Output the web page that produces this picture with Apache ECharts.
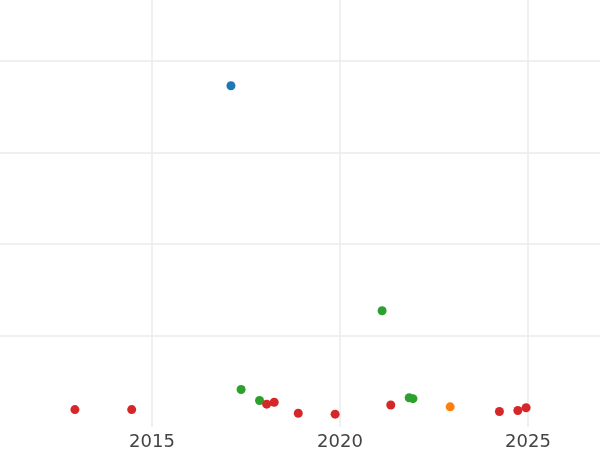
<!DOCTYPE html>
<html>
<head>
<meta charset="utf-8">
<script src="https://cdn.jsdelivr.net/npm/echarts@6/dist/echarts.min.js"></script>
<style>
  html, body { margin: 0; padding: 0; background: #fff; }
  #chart { width: 600px; height: 450px; }
</style>
</head>
<body>
<div id="chart"></div>
<script>
// x = year (decimal), y = value
var blueX = [2017.10];
var blueY = [373];
var orangeX = [2022.93];
var orangeY = [22];
var greenX = [2017.37, 2017.86, 2021.12, 2021.84, 2021.94];
var greenY = [41, 29, 127, 32, 31];
var redX = [2012.95, 2014.46, 2018.05, 2018.25, 2018.89, 2019.87, 2021.35, 2024.24, 2024.73, 2024.95];
var redY = [19, 19, 25, 27, 15, 14, 24, 17, 18, 21];
var xTicks = [2010, 2015, 2020, 2025, 2030];

function pairs(xs, ys) {
  return xs.map(function (x, i) { return [x, ys[i]]; });
}

var chart = echarts.init(document.getElementById("chart"));
var gridLine = { show: true, showMinLine: false, showMaxLine: false, lineStyle: { color: "#ebebeb", width: 1.5 } };

function dots(name, color, data) {
  return {
    name: name,
    type: "scatter",
    symbolSize: 9,
    itemStyle: { color: color, opacity: 1 },
    data: data
  };
}

chart.setOption({
  animation: false,
  grid: {
    left: -36, right: -116, top: -30.5, bottom: 23,
    containLabel: false,
    outerBoundsMode: "none"
  },
  xAxis: {
    type: "value",
    min: xTicks[0],
    max: xTicks[xTicks.length - 1],
    interval: 5,
    axisLine: { show: false },
    axisTick: { show: false },
    splitLine: gridLine,
    axisLabel: {
      color: "#444",
      fontSize: 18,
      fontFamily: "DejaVu Sans",
      margin: 6,
      formatter: function (v) { return String(v); }
    }
  },
  yAxis: {
    type: "value",
    min: 0,
    max: 500,
    interval: 100,
    axisLine: { show: false },
    axisTick: { show: false },
    axisLabel: { show: false },
    splitLine: gridLine
  },
  series: [
    dots("blue", "#1f77b4", pairs(blueX, blueY)),
    dots("orange", "#ff7f0e", pairs(orangeX, orangeY)),
    dots("green", "#2ca02c", pairs(greenX, greenY)),
    dots("red", "#d62728", pairs(redX, redY))
  ]
});
</script>
</body>
</html>
